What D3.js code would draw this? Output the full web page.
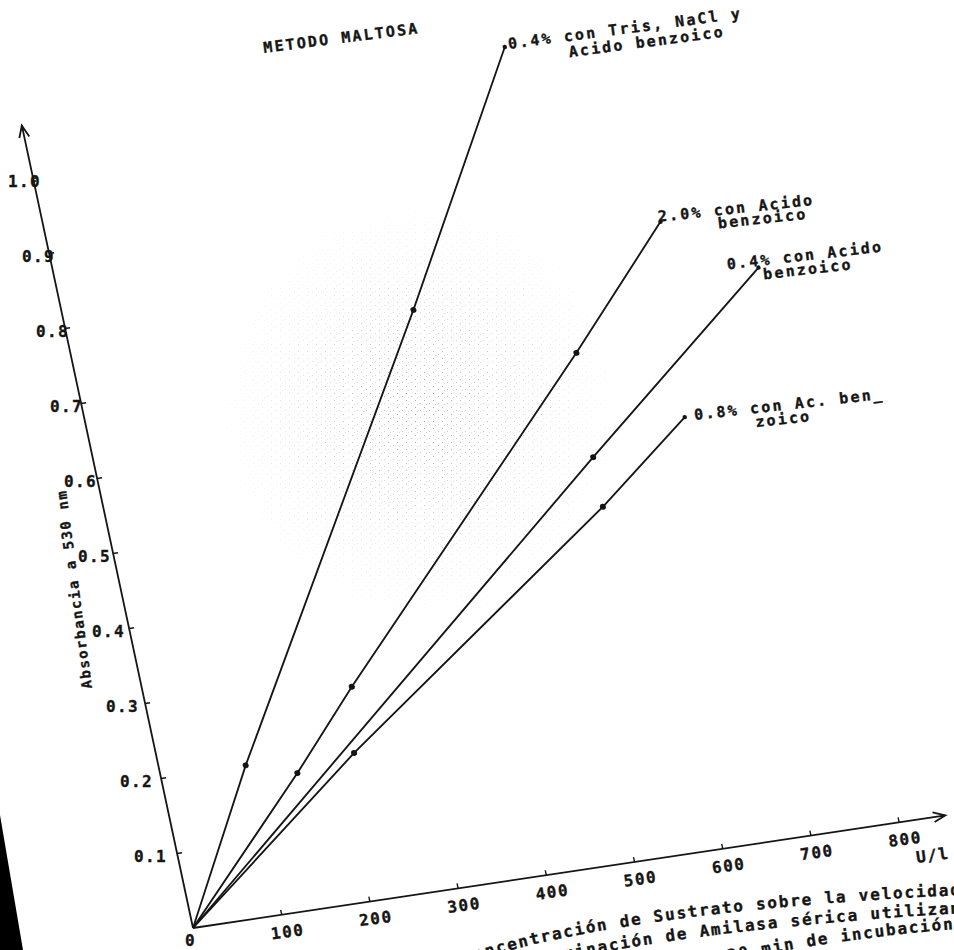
<!DOCTYPE html>
<html>
<head>
<meta charset="utf-8">
<script src="https://cdn.jsdelivr.net/npm/d3@7"></script>
<style>
  body { margin: 0; background: #fff; }
  svg { display: block; }
  text { font-family: "DejaVu Sans Mono", "Liberation Mono", monospace; font-weight: bold; fill: #151515; stroke: #151515; stroke-width: 0.35px; }
</style>
</head>
<body>
<div class="canvas"></div>
<script>
const w = 954;
const h = 950;

// tick values
const xTicks = [0, 100, 200, 300, 400, 500, 600, 700, 800];
const yTicks = [0.1, 0.2, 0.3, 0.4, 0.5, 0.6, 0.7, 0.8, 0.9, 1.0];

// series: activity (U/l) vs absorbance at 530 nm
const trisX = [0, 96, 387, 549];
const trisY = [0, 0.2, 0.756, 1.078];
const acido20X = [0, 151, 231, 556, 679];
const acido20Y = [0, 0.18, 0.281, 0.669, 0.822];
const acido04X = [0, 550, 776];
const acido04Y = [0, 0.531, 0.744];
const acido08X = [0, 218, 549, 660];
const acido08Y = [0, 0.195, 0.465, 0.565];

const seriesLabels = [
  ["0.4% con Tris, NaCl y", "Acido benzoico"],
  ["2.0% con Acido", "benzoico"],
  ["0.4% con Acido", "benzoico"],
  ["0.8% con Ac. ben_", "zoico"]
];

const series = [
  { xs: trisX, ys: trisY, label: seriesLabels[0], off: [4, 2], rot: -7.5, line2: [59, 16] },
  { xs: acido20X, ys: acido20Y, label: seriesLabels[1], off: [-2, 0], rot: -6.2, line2: [59, 13] },
  { xs: acido04X, ys: acido04Y, label: seriesLabels[2], off: [-31, 2], rot: -6.6, line2: [35, 14] },
  { xs: acido08X, ys: acido08Y, label: seriesLabels[3], off: [10, 3], rot: -6.4, line2: [60, 14] }
];

const svg = d3.select(".canvas").append("svg").attr("width", w).attr("height", h);

// the scanned page is skewed: x axis climbs to the right, y axis leans left
const xDir = [0.989, -0.148];
const yDir = [0.2086, 0.978]; // screen direction of local +y (downwards)
const graphWidth = 713.5; // 800 U/l
const graphHeight = 766.9; // absorbance 1.0
const origin = [193, 928];
const e = origin[0] - yDir[0] * graphHeight;
const f = origin[1] - yDir[1] * graphHeight;
const M = [xDir[0], xDir[1], yDir[0], yDir[1], e, f];
const det = M[0] * M[3] - M[1] * M[2];
const inv = [M[3] / det, -M[1] / det, -M[2] / det, M[0] / det, 0, 0];

const project = (lx, ly) => [M[0] * lx + M[2] * ly + M[4], M[1] * lx + M[3] * ly + M[5]];

// scan grain in the middle of the sheet
const defs = svg.append("defs");
const pat = defs.append("pattern").attr("id", "grain")
  .attr("width", 9).attr("height", 7).attr("patternUnits", "userSpaceOnUse");
pat.append("rect").attr("x", 1).attr("y", 1).attr("width", 1).attr("height", 1).attr("fill", "#555");
pat.append("rect").attr("x", 6).attr("y", 4).attr("width", 1).attr("height", 1).attr("fill", "#888");
pat.append("rect").attr("x", 3).attr("y", 5).attr("width", 1).attr("height", 1).attr("fill", "#aaa");
const grad = defs.append("radialGradient").attr("id", "fade");
grad.append("stop").attr("offset", "0%").attr("stop-color", "#fff").attr("stop-opacity", 0.9);
grad.append("stop").attr("offset", "100%").attr("stop-color", "#fff").attr("stop-opacity", 0);
defs.append("mask").attr("id", "grainMask")
  .append("ellipse").attr("cx", 420).attr("cy", 410).attr("rx", 210).attr("ry", 220).attr("fill", "url(#fade)");
svg.append("rect").attr("x", 200).attr("y", 180).attr("width", 460).attr("height", 470)
  .attr("fill", "url(#grain)").attr("mask", "url(#grainMask)").attr("opacity", 0.6);

// black edge of the scan
svg.append("polygon").attr("points", "0,815 23,950 0,950").attr("fill", "#000");

const graph = svg.append("g").attr("transform", `matrix(${M.join(",")})`);

const x = d3.scaleLinear().domain([0, 800]).range([0, graphWidth]);
const y = d3.scaleLinear().domain([0, 1]).range([graphHeight, 0]);

const ink = "#151515";
const font = '"DejaVu Sans Mono", monospace';
const screenText = (dx, dy, rot) => `matrix(${inv.join(",")}) translate(${dx},${dy}) rotate(${rot})`;

// x axis
const xAxis = d3.axisBottom(x).tickValues(xTicks).tickSizeInner(-5).tickSizeOuter(0).tickFormat(d3.format("d"));
const gx = graph.append("g").attr("transform", `translate(0, ${graphHeight})`).call(xAxis);
gx.select(".domain").remove();
gx.selectAll(".tick line").attr("stroke", ink).attr("stroke-width", 1.4);
gx.selectAll(".tick text")
  .attr("x", 0).attr("y", 5.5).attr("dy", null)
  .attr("fill", ink).attr("font-size", 16).attr("letter-spacing", 1.6)
  .style("font-family", font).style("font-weight", "bold")
  .attr("transform", (d) => (d === 0 ? screenText(-3, 13, 0) : screenText(6, 17, -8)));
gx.select(".tick").select("line").remove();

// y axis
const yAxis = d3.axisLeft(y).tickValues(yTicks).tickSizeInner(-5).tickSizeOuter(0).tickFormat(d3.format(".1f"));
const gy = graph.append("g").call(yAxis);
gy.select(".domain").remove();
gy.selectAll(".tick line").attr("stroke", ink).attr("stroke-width", 1.4);
gy.selectAll(".tick text")
  .attr("x", 0).attr("y", 0).attr("dy", null)
  .attr("fill", ink).attr("font-size", 16).attr("letter-spacing", 1.4)
  .style("font-family", font).style("font-weight", "bold")
  .attr("text-anchor", "end")
  .attr("transform", (d) => screenText(-12 + 20 * d, 8.5, 0));

// axis lines with open arrow heads
const xEnd = x(853);
const yEnd = y(1.07);
graph.append("path")
  .attr("d", `M0,${graphHeight}H${xEnd}M${xEnd - 12},${graphHeight - 5}L${xEnd},${graphHeight}L${xEnd - 12},${graphHeight + 5}`)
  .attr("fill", "none").attr("stroke", ink).attr("stroke-width", 1.8);
graph.append("path")
  .attr("d", `M0,${graphHeight}V${yEnd}M-5,${yEnd + 12}L0,${yEnd}L5,${yEnd + 12}`)
  .attr("fill", "none").attr("stroke", ink).attr("stroke-width", 1.8);

// series lines and dots
const line = d3.line().x((d) => x(d[0])).y((d) => y(d[1]));
series.forEach((s) => {
  const pts = s.xs.map((v, i) => [v, s.ys[i]]);
  graph.append("path").datum(pts).attr("d", line)
    .attr("fill", "none").attr("stroke", ink).attr("stroke-width", 1.8);
  graph.selectAll(null).data(pts.slice(1)).enter().append("circle")
    .attr("cx", (d) => x(d[0])).attr("cy", (d) => y(d[1]))
    .attr("r", (d, i) => (i === pts.length - 2 ? 2.2 : 3)).attr("fill", ink);

  // label next to the last point
  const last = pts[pts.length - 1];
  const [px, py] = project(x(last[0]), y(last[1]));
  const t = svg.append("text")
    .attr("transform", `translate(${px + s.off[0]},${py + s.off[1]}) rotate(${s.rot})`)
    .attr("font-size", 15).attr("letter-spacing", 2.2);
  t.append("tspan").attr("x", 0).attr("y", 0).text(s.label[0]);
  t.append("tspan").attr("x", s.line2[0]).attr("y", s.line2[1]).text(s.label[1]);
});

// title
svg.append("text").attr("transform", "translate(264,53) rotate(-7.3)")
  .attr("font-size", 15).attr("letter-spacing", 2.2).text("METODO MALTOSA");

// y axis title
svg.append("text").attr("transform", "translate(92,688) rotate(-97.5)")
  .attr("font-size", 14).attr("letter-spacing", 1.6).text("Absorbancia a 530 nm");

// x unit
svg.append("text").attr("transform", "translate(917,863) rotate(-8)")
  .attr("font-size", 16).attr("letter-spacing", 1.5).text("U/l");

// caption along the curled bottom of the page
const captionPaths = [
  "M440,972 Q600,912 962,895",
  "M440,993 Q620,931 985,912",
  "M560,1008 Q730,948 955,929"
];
const captionLines = [
  "concentración de Sustrato sobre la velocidad",
  "determinación de Amilasa sérica utilizando",
  "y 30 min de incubación"
];
captionPaths.forEach((p, i) => {
  defs.append("path").attr("id", `cap${i}`).attr("d", p);
  svg.append("text").attr("font-size", 16).attr("letter-spacing", 1.8)
    .append("textPath").attr("href", `#cap${i}`).attr("startOffset", "100%").attr("text-anchor", "end")
    .text(captionLines[i]);
});
</script>
</body>
</html>
